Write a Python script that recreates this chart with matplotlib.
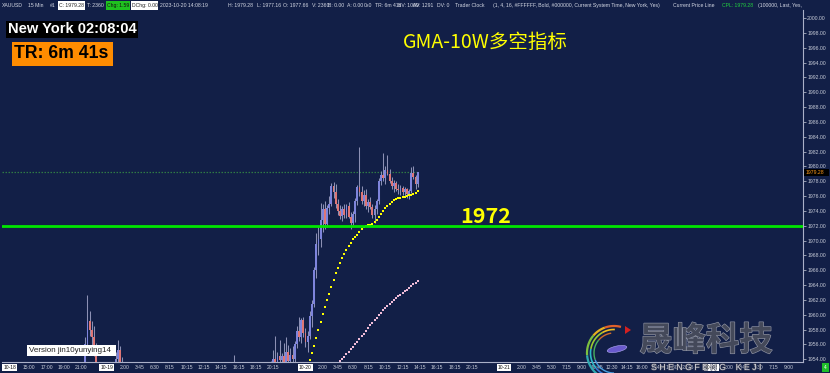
# coding: utf-8
"""
Name: plot.py

Redraw the XAUUSD 15 min chart with the GMA-10W long/short indicator.
"""
import matplotlib
matplotlib.use("Agg")
import matplotlib.pyplot as plt
import matplotlib.patheffects as pe
from matplotlib.patches import Rectangle, Ellipse, Polygon
import numpy as np

W, H = 830, 373
BG = "#121f47"
FG = "#c8ccd8"

# candles (chart time, OHLC)
BAR_TIMES = [
    "10-18 21:30", "10-18 21:45", "10-18 22:00", "10-18 22:15", "10-18 22:30", "10-18 22:45",
    "10-19 01:00", "10-19 01:15", "10-19 01:30", "10-19 01:45", "10-19 15:45",
    "10-19 20:00", "10-19 20:15", "10-19 20:30", "10-19 20:45", "10-19 21:00", "10-19 21:15",
    "10-19 21:30", "10-19 21:45", "10-19 22:00", "10-19 22:15", "10-19 22:30", "10-19 22:45",
    "10-19 23:00", "10-19 23:15", "10-19 23:30", "10-19 23:45",
    "10-20 00:00", "10-20 00:15", "10-20 00:30", "10-20 00:45", "10-20 01:00", "10-20 01:15",
    "10-20 01:30", "10-20 01:45", "10-20 02:00", "10-20 02:15", "10-20 02:30", "10-20 02:45",
    "10-20 03:00", "10-20 03:15", "10-20 03:30", "10-20 03:45", "10-20 04:00", "10-20 04:15",
    "10-20 04:30", "10-20 04:45", "10-20 06:00", "10-20 06:15", "10-20 06:30", "10-20 06:45",
    "10-20 07:00", "10-20 07:15", "10-20 07:30", "10-20 07:45", "10-20 08:00", "10-20 08:15",
    "10-20 08:30", "10-20 08:45", "10-20 09:00", "10-20 09:15", "10-20 09:30", "10-20 09:45",
    "10-20 10:00", "10-20 10:15", "10-20 10:30", "10-20 10:45", "10-20 11:00", "10-20 11:15",
    "10-20 11:30", "10-20 11:45", "10-20 12:00", "10-20 12:15", "10-20 12:30", "10-20 12:45",
    "10-20 13:00", "10-20 13:15", "10-20 13:30", "10-20 13:45", "10-20 14:00",
]
BAR_OPEN = [
    1952.5, 1956.0, 1959.1, 1958.0, 1957.0, 1955.5,
    1952.0, 1954.0, 1955.3, 1953.7, 1951.0,
    1951.5, 1953.0, 1954.0, 1953.5, 1954.5, 1953.9,
    1954.4, 1953.6, 1955.0, 1953.8, 1954.6, 1954.0,
    1956.0, 1957.8, 1957.0, 1959.3,
    1957.5, 1956.3, 1957.2, 1959.8, 1961.5, 1966.0,
    1969.5, 1970.2, 1972.8, 1974.2, 1972.3, 1974.4,
    1975.0, 1977.4, 1976.6, 1974.9, 1974.0, 1973.3,
    1974.3, 1973.5, 1974.6, 1973.2, 1972.4, 1973.6,
    1975.4, 1977.2, 1976.5, 1975.4, 1976.2, 1974.7,
    1975.2, 1974.5, 1973.4, 1974.3, 1975.3, 1978.0,
    1978.8, 1978.5, 1979.5, 1979.0, 1978.0, 1977.4,
    1977.8, 1977.0, 1976.8, 1977.1, 1976.5, 1976.9,
    1976.3, 1976.7, 1979.1, 1978.6, 1977.66,
]
BAR_HIGH = [
    1957.0, 1962.7, 1960.5, 1959.2, 1958.5, 1956.2,
    1955.0, 1956.6, 1955.8, 1954.3, 1954.6,
    1953.8, 1955.2, 1957.1, 1955.0, 1956.6, 1954.9,
    1956.2, 1957.0, 1955.9, 1955.5, 1955.8, 1956.5,
    1958.5, 1959.7, 1959.6, 1959.7,
    1958.2, 1957.8, 1960.5, 1962.0, 1966.5, 1971.0,
    1972.0, 1975.1, 1975.0, 1975.3, 1974.8, 1976.0,
    1977.8, 1977.9, 1977.6, 1975.6, 1974.8, 1974.6,
    1975.0, 1974.9, 1975.2, 1973.9, 1974.0, 1975.8,
    1977.5, 1982.6, 1977.4, 1976.8, 1976.9, 1975.6,
    1975.9, 1975.0, 1974.8, 1975.6, 1978.4, 1979.4,
    1981.8, 1980.0, 1981.6, 1979.6, 1978.6, 1978.2,
    1978.1, 1977.6, 1977.5, 1977.4, 1977.2, 1977.1,
    1977.0, 1979.9, 1980.1, 1978.9, 1979.28,
]
BAR_LOW = [
    1952.0, 1955.5, 1957.2, 1955.0, 1954.5, 1952.5,
    1951.5, 1953.0, 1953.2, 1952.0, 1950.5,
    1950.8, 1952.5, 1952.8, 1952.0, 1953.0, 1952.6,
    1953.4, 1953.2, 1953.2, 1953.0, 1953.4, 1953.6,
    1955.5, 1956.5, 1956.2, 1957.0,
    1955.6, 1955.0, 1956.8, 1958.4, 1961.0, 1965.0,
    1968.0, 1969.1, 1971.2, 1971.5, 1971.8, 1973.6,
    1974.6, 1975.8, 1974.4, 1973.4, 1972.9, 1972.6,
    1973.1, 1973.0, 1973.0, 1971.6, 1972.1, 1972.5,
    1974.8, 1976.0, 1975.0, 1974.6, 1974.3, 1973.8,
    1974.2, 1973.0, 1972.4, 1973.6, 1975.0, 1977.5,
    1978.0, 1977.6, 1978.8, 1977.7, 1977.0, 1976.6,
    1976.7, 1976.3, 1976.2, 1976.2, 1975.9, 1975.8,
    1975.6, 1976.4, 1978.3, 1977.0, 1977.16,
]
BAR_CLOSE = [
    1956.0, 1959.1, 1958.0, 1957.0, 1955.5, 1953.2,
    1954.0, 1955.3, 1953.7, 1952.5, 1952.0,
    1953.0, 1954.0, 1953.5, 1954.5, 1953.9, 1954.4,
    1953.6, 1955.0, 1953.8, 1954.6, 1954.0, 1956.0,
    1957.8, 1957.0, 1959.3, 1957.5,
    1956.3, 1957.2, 1959.8, 1961.5, 1966.0, 1969.5,
    1970.2, 1972.8, 1974.2, 1972.3, 1974.4, 1975.0,
    1977.4, 1976.6, 1974.9, 1974.0, 1973.3, 1974.3,
    1973.5, 1974.6, 1973.2, 1972.4, 1973.6, 1975.4,
    1977.2, 1976.5, 1975.4, 1976.2, 1974.7, 1975.2,
    1974.5, 1973.4, 1974.3, 1975.3, 1978.0, 1978.8,
    1978.5, 1979.5, 1979.0, 1978.0, 1977.4, 1977.8,
    1977.0, 1976.8, 1977.1, 1976.5, 1976.9, 1976.3,
    1976.7, 1979.1, 1978.6, 1977.66, 1979.28,
]

# GMA-10W indicator dots, one per bar from the start time
GMA_FAST_START = "10-20 00:30"
GMA_FAST = [
    1953.91, 1954.85, 1955.80, 1956.81, 1957.95, 1959.03, 1960.11, 1961.05, 1961.93, 1962.87,
    1963.81, 1964.69, 1965.57, 1966.37, 1966.98, 1967.65, 1968.19, 1968.73, 1969.27, 1969.74,
    1970.15, 1970.49, 1970.82, 1971.16, 1971.50, 1971.77, 1971.97, 1972.10, 1972.17, 1972.30,
    1972.51, 1972.84, 1973.18, 1973.58, 1973.99, 1974.33, 1974.66, 1975.00, 1975.27, 1975.47,
    1975.61, 1975.70, 1975.78, 1975.85, 1975.92, 1975.98, 1976.08, 1976.19, 1976.31, 1976.48,
    1976.68,
]
GMA_SLOW_START = "10-20 04:00"
GMA_SLOW = [
    1953.77, 1954.07, 1954.38, 1954.69, 1955.01, 1955.35, 1955.69, 1956.02, 1956.37, 1956.73,
    1957.09, 1957.45, 1957.83, 1958.21, 1958.58, 1958.94, 1959.29, 1959.62, 1959.96, 1960.30,
    1960.63, 1960.96, 1961.25, 1961.52, 1961.78, 1962.02, 1962.26, 1962.49, 1962.72, 1962.95,
    1963.18, 1963.41, 1963.64, 1963.87, 1964.11, 1964.35, 1964.62,
]

LEVEL = 1972
LAST_PRICE = 1979.28
Y_TICKS = list(range(1954, 2001, 2))

TICK_STAMPS = [
    "10-18 12:45", "10-18 15:00", "10-18 17:00", "10-18 19:00", "10-18 21:00",
    "10-19 00:00", "10-19 02:00", "10-19 03:45", "10-19 06:30", "10-19 08:15", "10-19 10:15",
    "10-19 12:15", "10-19 14:15", "10-19 16:15", "10-19 18:15", "10-19 20:15",
    "10-20 00:00", "10-20 02:00", "10-20 03:45", "10-20 06:30", "10-20 08:15", "10-20 10:15",
    "10-20 12:15", "10-20 14:15", "10-20 16:15", "10-20 18:15", "10-20 20:15",
    "10-21 00:00", "10-21 02:00", "10-21 03:45", "10-21 05:30", "10-21 07:15", "10-21 09:00",
    "10-21 10:45", "10-21 12:30", "10-21 14:15", "10-21 16:00", "10-21 17:45", "10-21 19:30",
    "10-21 21:15",
    "10-22 00:00", "10-22 02:00", "10-22 03:45", "10-22 05:30", "10-22 07:15", "10-22 09:00",
]
TICK_LABELS = [
    "10-18", "15:00", "17:00", "19:00", "21:00",
    "10-19", "2:00", "3:45", "6:30", "8:15", "10:15",
    "12:15", "14:15", "16:15", "18:15", "20:15",
    "10-20", "2:00", "3:45", "6:30", "8:15", "10:15",
    "12:15", "14:15", "16:15", "18:15", "20:15",
    "10-21", "2:00", "3:45", "5:30", "7:15", "9:00",
    "10:45", "12:30", "14:15", "16:00", "17:45", "19:30",
    "21:15",
    "10-22", "2:00", "3:45", "5:30", "7:15", "9:00",
]

# bar slots: trading days skip the 5:00-6:00 break, the weekend is continuous
DAY_START = {"10-18": -184, "10-19": -92, "10-20": 0, "10-21": 92, "10-22": 188}
TRADING_DAYS = ("10-18", "10-19", "10-20")


def bar_index(stamp):
    """chart time -> bar slot."""
    day, hm = stamp.split()
    h, m = map(int, hm.split(":"))
    k = h * 4 + m // 15
    if day in TRADING_DAYS and h >= 6:
        k -= 4
    return DAY_START[day] + k


def draw_candles(ax):
    x = np.array([bar_index(t) for t in BAR_TIMES])
    o = np.array(BAR_OPEN)
    hi = np.array(BAR_HIGH)
    lo = np.array(BAR_LOW)
    c = np.array(BAR_CLOSE)
    up = c >= o
    ax.vlines(x, lo, hi, color="#8c90b4", lw=0.75, zorder=2)
    ax.bar(x[up], (c - o)[up], bottom=o[up], width=0.85, color="#7e84dc",
           linewidth=0, zorder=3)
    ax.bar(x[~up], (o - c)[~up], bottom=c[~up], width=0.85, color="#de7676",
           linewidth=0, zorder=3)
    return x


def draw_indicator(ax):
    xf = bar_index(GMA_FAST_START) + np.arange(len(GMA_FAST))
    xs = bar_index(GMA_SLOW_START) + np.arange(len(GMA_SLOW))
    ax.plot(xs, GMA_SLOW, "s", color="#f0bcd8", ms=1.6, mew=0, zorder=4)
    ax.plot(xf, GMA_FAST, "s", color="#ffff00", ms=2.1, mew=0, zorder=4)


def setup_axes(ax):
    ax.set_xlim(-140.6, 230.5)
    ax.set_ylim(1953.64, 2001.08)
    for side in ("top", "left"):
        ax.spines[side].set_visible(False)
    for side in ("right", "bottom"):
        ax.spines[side].set_color("#aab0c8")
        ax.spines[side].set_linewidth(0.8)

    ax.yaxis.tick_right()
    ax.set_yticks(Y_TICKS)
    ax.set_yticklabels([f"{v:.2f}" for v in Y_TICKS])
    ax.tick_params(axis="y", length=2, width=0.5, colors=FG, labelsize=3.7, pad=1)

    ax.set_xticks([bar_index(s) for s in TICK_STAMPS])
    ax.set_xticklabels(TICK_LABELS)
    ax.tick_params(axis="x", length=0, colors=FG, labelsize=3.6, pad=2.2)
    for lab in ax.get_xticklabels():
        if "-" in lab.get_text():
            lab.set_color("#111111")
            lab.set_bbox(dict(boxstyle="square,pad=0.2", fc="white", ec="none"))


def box_text(ov, x0, y0, x1, y1, fc, text, tx, size, color, weight="normal", family=None):
    ov.add_patch(Rectangle((x0, y0), x1 - x0, y1 - y0, fc=fc, ec="none"))
    ov.text(tx, (y0 + y1) / 2, text, fontsize=size, color=color, weight=weight,
            family=family, ha="left", va="center")


def draw_header(ov):
    size = 3.7
    plain = [(2, "XAUUSD"), (28, "15 Min"), (50, "#1"), (86.5, "T: 2360"),
             (160, "2023-10-20 14:08:19"), (228, "H: 1979.28"), (257, "L: 1977.16"),
             (283, "O: 1977.66"), (312, "V: 2360"), (328, "B: 0.00"), (347, "A: 0.00"),
             (364, "0x0"), (375, "TR: 6m 41s"), (398, "BV: 1069"), (413, "AV: 1291"),
             (437, "DV: 0"), (455, "Trader Clock"),
             (493, "(1, 4, 16, #FFFFFF, Bold, #000000, Current System Time, New York, Yes)"),
             (673, "Current Price Line"), (758, "(100000, Last, Yes,")]
    for x, s in plain:
        ov.text(x, 5.2, s, fontsize=size, color="#d4d8e4", ha="left", va="center")
    box_text(ov, 58, 1, 85, 9.5, "white", "C: 1979.28", 59, size, "#222222")
    box_text(ov, 106, 1, 130, 9.5, "#1fc21f", "Chg: 1.59", 107, size, "#111111")
    box_text(ov, 131, 1, 158, 9.5, "white", "DChg: 0.00", 132, size, "#222222")
    ov.text(722, 5.2, "CPL: 1979.28", fontsize=size, color="#22d040", ha="left", va="center")


def draw_logo(ov):
    cx, cy = 614, 353
    strokes = [
        (27, 75, 110, "#e0602a", 1.6), (27, 110, 140, "#e8b020", 1.6),
        (27, 140, 185, "#7cc040", 1.6), (27, 185, 230, "#30a8b0", 1.6),
        (27, 230, 275, "#2a80d0", 1.6),
        (23.5, 88, 120, "#f0c020", 1.2), (23.5, 120, 170, "#9ccc30", 1.2),
        (23.5, 170, 220, "#2cb8c8", 1.2), (23.5, 220, 280, "#3a7ad8", 1.2),
        (20, 98, 140, "#d06a2a", 1.0), (20, 140, 200, "#48b060", 1.0),
        (20, 200, 270, "#4aa0e0", 1.0),
    ]
    for r, a0, a1, col, lw in strokes:
        t = np.radians(np.linspace(a0, a1, 30))
        ov.plot(cx + r * np.cos(t), cy - r * np.sin(t), color=col, lw=lw,
                solid_capstyle="butt")
    ov.add_patch(Ellipse((617, 349), 20, 6, angle=-12, fc="#6a5acd", ec="#b0a8f0", lw=0.4))
    ov.add_patch(Polygon([(625, 326), (631, 330), (625, 334)], fc="#d42020", ec="none"))
    ov.text(706, 341, "晟峰科技", fontsize=24, family=["Noto Sans CJK SC"], weight="bold",
            color="#44495a", ha="center", va="center",
            path_effects=[pe.withStroke(linewidth=0.9, foreground="#9094a4")])
    ov.text(706, 367.5, "S H E N G F E N G    K E J I", fontsize=6.3, color="#d8d8e0",
            ha="center", va="center",
            path_effects=[pe.withStroke(linewidth=0.8, foreground="#404456")])


def draw_overlay(fig):
    ov = fig.add_axes([0, 0, 1, 1])
    ov.set_xlim(0, W)
    ov.set_ylim(H, 0)
    ov.axis("off")
    ov.patch.set_alpha(0)

    draw_header(ov)
    box_text(ov, 6, 20.5, 138, 37.5, "black", "New York 02:08:04", 8, 10.5, "white", "bold")
    box_text(ov, 11.5, 42, 113, 65.5, "#ff8c00", "TR: 6m 41s", 14, 12.7, "black", "bold")
    ov.text(403, 48, "GMA-10W多空指标", fontsize=14, family=["Noto Sans CJK SC"],
            color="#ffff00", ha="left", va="baseline")
    box_text(ov, 27, 344.5, 115.5, 355.5, "white", "Version jin10yunying14", 28.5, 5.8, "#222222")
    box_text(ov, 803.5, 168.5, 829, 175.7, "black", "1979.28", 806, 3.7, "#ff9a1a")
    box_text(ov, 821.5, 363, 828.5, 372, "#1fbf2a", "4", 823.5, 3.5, "white")
    draw_logo(ov)


def main():
    plt.rcParams["font.family"] = ["Liberation Sans", "Noto Sans CJK SC", "DejaVu Sans"]
    fig = plt.figure(figsize=(W / 100, H / 100), dpi=100, facecolor=BG)
    ax = fig.add_axes([2 / W, 11 / H, 801 / W, 352 / H], facecolor=BG)

    x = draw_candles(ax)
    draw_indicator(ax)
    ax.axhline(LEVEL, color="#00e600", lw=2, zorder=5)
    ax.plot([-140.6, x.max()], [LAST_PRICE, LAST_PRICE],
            color="#2f7a45", lw=0.9, ls=(0, (1.2, 1.2)), zorder=1)
    ax.annotate(str(LEVEL), xy=(83.6, LEVEL), xytext=(0, 2.2), textcoords="offset points",
                ha="center", va="baseline", fontsize=15.5, weight="bold",
                family=["Noto Sans CJK SC", "DejaVu Sans"], color="#ffff00", zorder=6)
    setup_axes(ax)

    draw_overlay(fig)
    fig.savefig("out.png", dpi=100, facecolor=BG)


if __name__ == "__main__":
    main()
